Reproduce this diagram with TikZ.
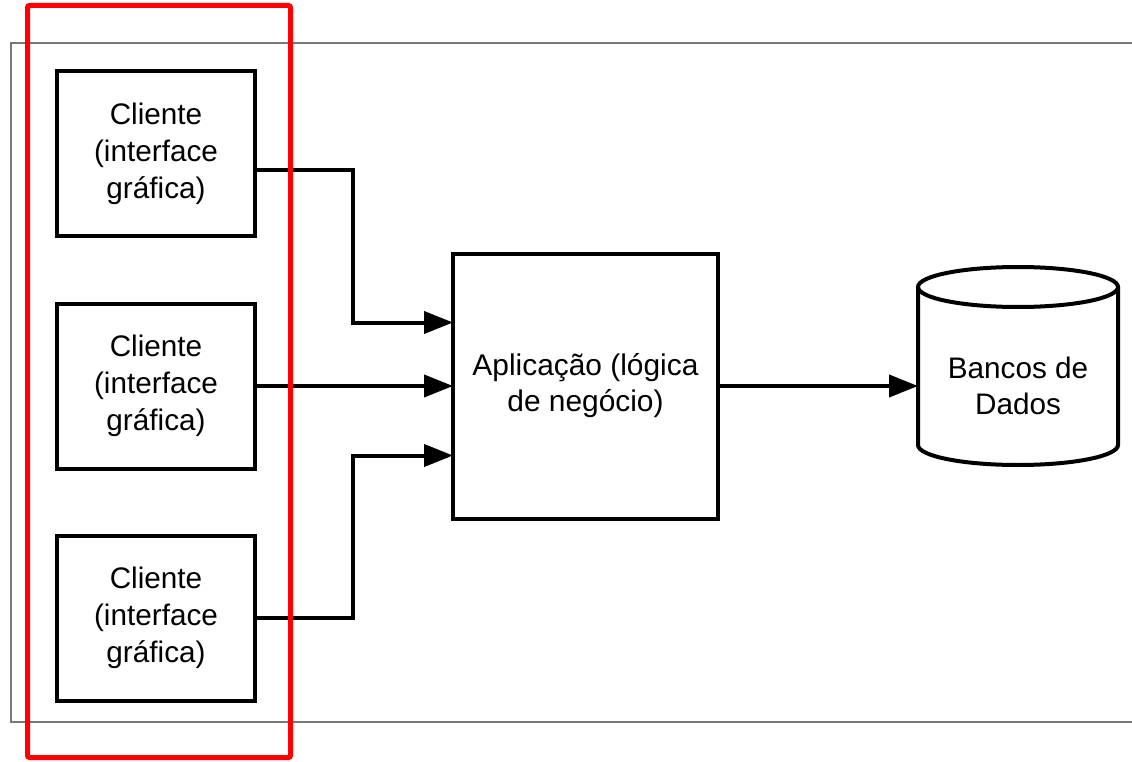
\documentclass[tikz,border=0pt]{standalone}
\usepackage{fontspec}
\setmainfont{Liberation Sans}
\usepackage{xcolor}
\usepackage{tikz}
\usetikzlibrary{arrows.meta, positioning}
\definecolor{mydark}{RGB}{0,0,0}
\definecolor{myred}{RGB}{255,0,0}
\definecolor{framegray}{RGB}{120,120,120}
\tikzset{
  client/.style={rectangle, draw=mydark, fill=white, align=center,
    minimum width=198pt, minimum height=165pt, outer sep=0pt,
    line width=4pt, font=\fontsize{29.7pt}{37pt}\selectfont},
  appbox/.style={rectangle, draw=mydark, fill=white, align=center,
    minimum width=265pt, minimum height=265pt, outer sep=0pt,
    line width=4pt, font=\fontsize{29.9pt}{36pt}\selectfont},
  dbbody/.style={rectangle, align=center, minimum width=200pt,
    minimum height=158pt, outer sep=0pt,
    font=\fontsize{29.7pt}{36pt}\selectfont},
  arrow/.style={-{Triangle[length=29pt, width=22pt]}, line width=4pt, color=mydark},
  line/.style={line width=4pt, color=mydark},
  highlight/.style={draw=myred, line width=5pt, rounded corners=2pt},
  frame/.style={draw=framegray, line width=2pt}
}

\begin{document}
\begin{tikzpicture}[x=1pt, y=-1pt]
  \useasboundingbox (0,0) rectangle (1132,762);
  % Frame
  \draw[frame] (1132,43) -- (11,43) -- (11,722) -- (1132,722);
  % Clients
  \node[client] (cli1) at (156,153.5) {Cliente\\(interface\\gráfica)};
  \node[client, below=67.5pt of cli1] (cli2) {Cliente\\(interface\\gráfica)};
  \node[client, below=67pt of cli2] (cli3) {Cliente\\(interface\\gráfica)};
  % Application
  \node[appbox, right=198pt of cli2] (app) {Aplicação (lógica\\de negócio)};
  % Database
  \node[dbbody, right=200pt of app] (db) {Bancos de\\Dados};
  \draw[line] ([yshift=20pt]db.north) ellipse [x radius=100pt, y radius=20pt];
  \draw[line] ([yshift=20pt]db.north west) -- ([yshift=20pt]db.south west)
    arc[start angle=180, end angle=360, x radius=100pt, y radius=20pt]
    -- ([yshift=20pt]db.north east);

  % Arrows
  \draw[arrow] ([yshift=-16.5pt]cli1.east) -- ++(98,0) |- ([yshift=63.5pt]app.west);
  \draw[arrow] (cli2.east) -- (cli2.east -| app.west);
  \draw[arrow] (cli3.east) -- ++(98,0) |- ([yshift=-69.5pt]app.west);
  \draw[arrow] (app.east) -- (app.east -| db.west);

  % Highlight
  \draw[highlight] (27.5,5.5) rectangle (290.5,757.5);
\end{tikzpicture}
\end{document}
